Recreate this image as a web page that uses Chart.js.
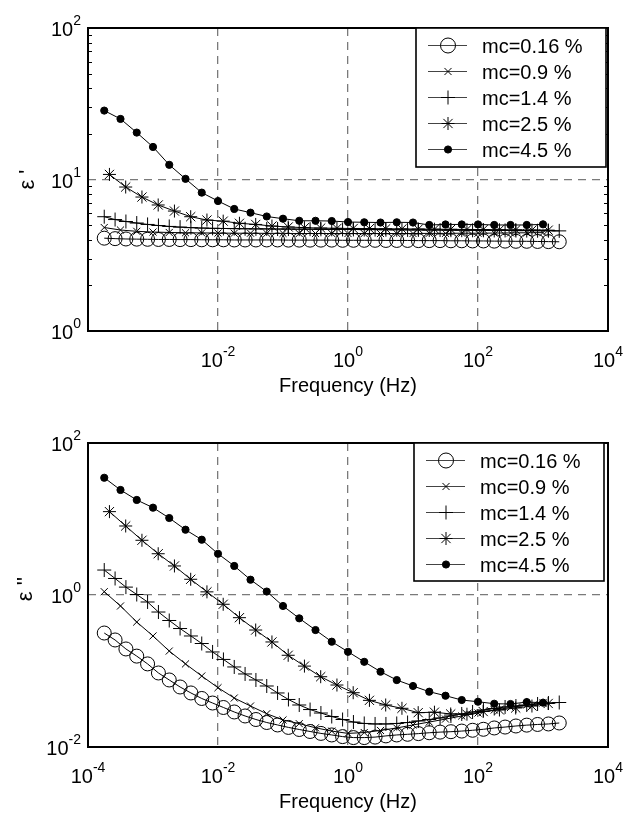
<!DOCTYPE html>
<html><head><meta charset="utf-8">
<script src="https://cdn.jsdelivr.net/npm/chart.js@4.4.1/dist/chart.umd.min.js"></script>
<style>
html,body{margin:0;padding:0;background:#fff;}
#wrap{position:relative;width:625px;height:816px;background:#fff;}
canvas{position:absolute;left:0;}
#c1{top:0;}
#c2{top:408px;}
</style></head><body>
<div id="wrap">
<canvas id="c1" width="625" height="408" style="width:625px;height:408px"></canvas>
<canvas id="c2" width="625" height="408" style="width:625px;height:408px"></canvas>
</div>
<script>
// ---------------- data ----------------
const seriesLabels = ['mc=0.16 %', 'mc=0.9 %', 'mc=1.4 %', 'mc=2.5 %', 'mc=4.5 %'];

// frequencies (Hz)
const freqQuarter = [1.778e-4, 3.162e-4, 5.623e-4, 1e-3, 1.778e-3, 3.162e-3, 5.623e-3, 1e-2, 1.778e-2, 3.162e-2,
  5.623e-2, 0.1, 0.1778, 0.3162, 0.5623, 1, 1.778, 3.162, 5.623, 10, 17.78, 31.62, 56.23, 100, 177.8, 316.2, 562.3, 1000];
const freqQuarterB = [2.138e-4, 3.802e-4, 6.761e-4, 1.202e-3, 2.138e-3, 3.802e-3, 6.761e-3, 1.202e-2, 2.138e-2, 3.802e-2,
  6.761e-2, 0.1202, 0.2138, 0.3802, 0.6761, 1.202, 2.138, 3.802, 6.761, 12.02, 21.38, 38.02, 67.61, 120.2, 213.8, 380.2, 676.1, 1202];
const freqSixth = [1.778e-4, 2.610e-4, 3.831e-4, 5.623e-4, 8.254e-4, 1.212e-3, 1.778e-3, 2.610e-3, 3.831e-3, 5.623e-3,
  8.254e-3, 1.212e-2, 1.778e-2, 2.610e-2, 3.831e-2, 5.623e-2, 8.254e-2, 0.1212, 0.1778, 0.2610, 0.3831, 0.5623, 0.8254,
  1.212, 1.778, 2.610, 3.831, 5.623, 8.254, 12.12, 17.78, 26.10, 38.31, 56.23, 82.54, 121.2, 177.8, 261.0, 383.1, 562.3,
  825.4, 1212, 1778];

// epsilon' (top panel)
const epsReal016 = [4.10, 4.07, 4.05, 4.04, 4.03, 4.02, 4.02, 4.01, 4.01, 4.00, 4.00, 4.00, 3.99, 3.99, 3.99, 3.99, 3.99,
  3.98, 3.98, 3.98, 3.98, 3.98, 3.97, 3.97, 3.97, 3.97, 3.96, 3.96, 3.96, 3.95, 3.95, 3.95, 3.94, 3.94, 3.93, 3.93, 3.92,
  3.92, 3.91, 3.91, 3.90, 3.89, 3.88];
const epsReal09 = [4.82, 4.64, 4.55, 4.50, 4.47, 4.45, 4.44, 4.43, 4.42, 4.42, 4.41, 4.41, 4.40, 4.40, 4.40, 4.40, 4.40,
  4.40, 4.40, 4.40, 4.41, 4.41, 4.42, 4.42, 4.43, 4.44, 4.45, 4.46];
const epsReal14 = [5.68, 5.44, 5.28, 5.16, 5.05, 4.97, 4.90, 4.85, 4.81, 4.78, 4.76, 4.75, 4.74, 4.73, 4.72, 4.72, 4.71,
  4.71, 4.70, 4.70, 4.69, 4.69, 4.68, 4.68, 4.67, 4.67, 4.66, 4.66, 4.65, 4.65, 4.64, 4.64, 4.63, 4.63, 4.62, 4.62, 4.61,
  4.61, 4.60, 4.60, 4.59, 4.59, 4.58];
const epsReal25 = [10.8, 8.92, 7.66, 6.79, 6.19, 5.68, 5.40, 5.31, 5.14, 5.05, 4.93, 4.86, 4.81, 4.78, 4.76, 4.75, 4.74,
  4.73, 4.72, 4.71, 4.70, 4.69, 4.68, 4.67, 4.66, 4.65, 4.64, 4.63];
const epsReal45 = [28.5, 25.1, 20.4, 16.4, 12.5, 10.1, 8.19, 7.21, 6.39, 6.04, 5.70, 5.51, 5.34, 5.34, 5.32, 5.24, 5.22,
  5.20, 5.22, 5.20, 5.01, 5.05, 5.05, 5.05, 5.01, 5.01, 5.01, 5.06];

// epsilon'' (bottom panel)
const epsImag016 = [0.316, 0.256, 0.195, 0.157, 0.124, 0.0942, 0.0762, 0.0616, 0.0514, 0.0435, 0.0379, 0.0331, 0.0289,
  0.0256, 0.0230, 0.0210, 0.0195, 0.0181, 0.0170, 0.0160, 0.0151, 0.0144, 0.0137, 0.0133, 0.0133, 0.0135, 0.0140, 0.0144,
  0.0147, 0.0150, 0.0154, 0.0157, 0.0159, 0.0162, 0.0166, 0.0171, 0.0178, 0.0183, 0.0189, 0.0194, 0.0198, 0.0201, 0.0207];
const epsImag09 = [1.105, 0.717, 0.441, 0.289, 0.183, 0.124, 0.0859, 0.0603, 0.0441, 0.0346, 0.0274, 0.0227, 0.0203,
  0.0179, 0.0162, 0.0151, 0.0155, 0.0165, 0.0178, 0.0195, 0.0213, 0.0233, 0.0256, 0.0280, 0.0307, 0.0331, 0.0357, 0.0379];
const epsImag14 = [2.13, 1.65, 1.27, 1.015, 0.809, 0.597, 0.462, 0.362, 0.289, 0.230, 0.178, 0.142, 0.113, 0.0914,
  0.0762, 0.0635, 0.0514, 0.0422, 0.0357, 0.0311, 0.0280, 0.0252, 0.0230, 0.0213, 0.0204, 0.0201, 0.0201, 0.0204, 0.0210,
  0.0220, 0.0230, 0.0241, 0.0256, 0.0272, 0.0289, 0.0307, 0.0321, 0.0336, 0.0346, 0.0357, 0.0368, 0.0379, 0.0385];
const epsImag25 = [12.5, 8.09, 5.25, 3.49, 2.41, 1.61, 1.10, 0.755, 0.503, 0.346, 0.241, 0.161, 0.116, 0.0841, 0.0654,
  0.0518, 0.0411, 0.0357, 0.0323, 0.0283, 0.0287, 0.0272, 0.0270, 0.0293, 0.0307, 0.0326, 0.0346, 0.0374];
const epsImag45 = [34.9, 24.1, 17.8, 14.1, 10.3, 7.23, 5.34, 3.49, 2.41, 1.59, 1.11, 0.717, 0.493, 0.346, 0.243, 0.179,
  0.132, 0.098, 0.076, 0.0635, 0.0534, 0.0473, 0.0415, 0.0394, 0.0371, 0.0368, 0.039, 0.0383];

// ticks (decade exponents)
const topXTickExps = [-2, 0, 2, 4];
const bottomXTickExps = [-4, -2, 0, 2, 4];
const topYTickExps = [0, 1, 2];
const bottomYTickExps = [-2, 0, 2];
const topMinorY = [2, 3, 4, 5, 6, 7, 8, 9, 20, 30, 40, 50, 60, 70, 80, 90];

const seriesFreqs = [freqSixth, freqQuarter, freqSixth, freqQuarterB, freqQuarter];

// ---------------- styles ----------------
const FONT = '"Liberation Sans", Arial, Helvetica, sans-serif';
Chart.defaults.font.family = FONT;
const markerStyles = [
  {pointStyle: 'circle', radius: 7, fill: 'rgba(0,0,0,0)'},
  {pointStyle: 'crossRot', radius: 5, fill: 'rgba(0,0,0,0)'},
  {pointStyle: 'cross', radius: 7, fill: 'rgba(0,0,0,0)'},
  {pointStyle: 'star', radius: 6.5, fill: 'rgba(0,0,0,0)'},
  {pointStyle: 'circle', radius: 3.6, fill: '#000'}
];

function buildDatasets(valsList) {
  return seriesLabels.map((lab, i) => ({
    label: lab,
    data: seriesFreqs[i].map((f, j) => ({x: f, y: valsList[i][j]})),
    borderColor: '#000', borderWidth: 1, fill: false, tension: 0,
    backgroundColor: markerStyles[i].fill,
    pointStyle: markerStyles[i].pointStyle,
    pointRadius: markerStyles[i].radius,
    pointHoverRadius: markerStyles[i].radius,
    pointBorderColor: '#000', pointBorderWidth: 1,
    pointBackgroundColor: markerStyles[i].fill
  }));
}

function sciLabel(ctx, e, x, y, align) {
  ctx.font = '20px ' + FONT;
  const w1 = ctx.measureText('10').width;
  const s = String(e);
  ctx.font = '14px ' + FONT;
  const w2 = ctx.measureText(s).width;
  const total = w1 + w2;
  const x0 = align === 'center' ? x - total / 2 : x - total;
  ctx.textAlign = 'left';
  ctx.textBaseline = 'alphabetic';
  ctx.fillStyle = '#000';
  ctx.font = '20px ' + FONT;
  ctx.fillText('10', x0, y);
  ctx.font = '14px ' + FONT;
  ctx.fillText(s, x0 + w1, y - 11);
}

const decor = {
  id: 'decor',
  afterDraw(chart, args, o) {
    const ctx = chart.ctx, a = chart.chartArea, xs = chart.scales.x, ys = chart.scales.y;
    ctx.save();
    // minor ticks
    ctx.strokeStyle = '#000'; ctx.lineWidth = 1;
    (o.minorY || []).forEach(v => {
      const py = Math.round(ys.getPixelForValue(v)) + 0.5;
      ctx.beginPath();
      ctx.moveTo(a.left, py); ctx.lineTo(a.left + 4, py);
      ctx.moveTo(a.right, py); ctx.lineTo(a.right - 4, py);
      ctx.stroke();
    });
    // frame
    ctx.strokeStyle = '#000'; ctx.lineWidth = 2;
    ctx.strokeRect(a.left, a.top, a.right - a.left, a.bottom - a.top);
    // tick labels
    o.xExps.forEach(e => sciLabel(ctx, e, xs.getPixelForValue(Math.pow(10, e)), a.bottom + 36, 'center'));
    o.yExps.forEach(e => sciLabel(ctx, e, 81, ys.getPixelForValue(Math.pow(10, e)) + 8, 'right'));
    // axis titles
    ctx.fillStyle = '#000';
    ctx.font = '20px ' + FONT;
    ctx.textAlign = 'center'; ctx.textBaseline = 'alphabetic';
    ctx.fillText(o.xTitle, (a.left + a.right) / 2, a.bottom + 61);
    ctx.save();
    ctx.translate(o.yTitleX, (a.top + a.bottom) / 2 + o.yTitleDy);
    ctx.rotate(-Math.PI / 2);
    ctx.textBaseline = 'middle';
    ctx.font = '22px ' + FONT;
    ctx.fillText(o.yTitle, 0, 0);
    ctx.restore();
    // legend
    const L = o.legendBox;
    ctx.fillStyle = '#fff';
    ctx.fillRect(L.left, L.top, L.right - L.left, L.bottom - L.top);
    ctx.strokeStyle = '#000'; ctx.lineWidth = 1.6;
    ctx.strokeRect(L.left, L.top, L.right - L.left, L.bottom - L.top);
    chart.data.datasets.forEach((ds, i) => {
      const ry = Math.round(L.top + 16.8 + i * 26) + 0.5;
      ctx.strokeStyle = '#444'; ctx.lineWidth = 1;
      ctx.beginPath(); ctx.moveTo(L.left + 12, ry); ctx.lineTo(L.left + 51, ry); ctx.stroke();
      ctx.strokeStyle = '#000'; ctx.fillStyle = ds.pointBackgroundColor; ctx.lineWidth = 1;
      Chart.helpers.drawPoint(ctx, {pointStyle: ds.pointStyle, radius: ds.pointRadius + (i === 0 ? 0.5 : 0), borderWidth: 1, rotation: 0}, L.left + 32, ry);
      ctx.fillStyle = '#000';
      ctx.font = '20px ' + FONT;
      ctx.textAlign = 'left'; ctx.textBaseline = 'alphabetic';
      ctx.fillText(ds.label, L.left + 66, ry + 7);
    });
    ctx.restore();
  }
};

function gridColor(c) {
  const v = c.tick ? c.tick.value : null;
  if (v === null) return 'rgba(0,0,0,0)';
  const sc = c.scale;
  if (Math.abs(Math.log10(v) - Math.log10(sc.min)) < 1e-6 || Math.abs(Math.log10(v) - Math.log10(sc.max)) < 1e-6) return 'rgba(0,0,0,0)';
  return '#7a7a7a';
}

function makeChart(id, valsList, cfg) {
  return new Chart(document.getElementById(id), {
    type: 'line',
    data: {datasets: buildDatasets(valsList)},
    options: {
      responsive: false, animation: false, devicePixelRatio: 1,
      layout: {padding: {top: cfg.padTop, right: 17, left: 0, bottom: 0}, autoPadding: false},
      plugins: {legend: {display: false}, tooltip: {enabled: false}, decor: cfg.decor},
      events: [],
      scales: {
        x: {
          type: 'logarithmic', min: 1e-4, max: 1e4,
          afterBuildTicks: s => { s.ticks = bottomXTickExps.map(e => ({value: Math.pow(10, e)})); },
          afterFit: s => { s.height = cfg.xHeight; },
          ticks: {display: false},
          grid: {color: gridColor, lineWidth: 1.3, drawTicks: false},
          border: {display: false, dash: [8, 6]}
        },
        y: {
          type: 'logarithmic', min: cfg.yMin, max: cfg.yMax,
          afterBuildTicks: s => { s.ticks = cfg.yGridExps.map(e => ({value: Math.pow(10, e)})); },
          afterFit: s => { s.width = 88; },
          ticks: {display: false},
          grid: {color: gridColor, lineWidth: 1.3, drawTicks: false},
          border: {display: false, dash: [8, 6]}
        }
      }
    },
    plugins: [decor]
  });
}

makeChart('c1', [epsReal016, epsReal09, epsReal14, epsReal25, epsReal45], {
  padTop: 28, xHeight: 77, yMin: 1, yMax: 100, yGridExps: topYTickExps,
  decor: {xExps: topXTickExps, yExps: topYTickExps, minorY: topMinorY, xTitle: 'Frequency (Hz)',
    yTitle: "ε '", yTitleX: 28, yTitleDy: 0, legendBox: {left: 416, top: 28, right: 606, bottom: 167}}
});
makeChart('c2', [epsImag016, epsImag09, epsImag14, epsImag25, epsImag45], {
  padTop: 35, xHeight: 69, yMin: 0.01, yMax: 100, yGridExps: bottomYTickExps,
  decor: {xExps: bottomXTickExps, yExps: bottomYTickExps, minorY: [], xTitle: 'Frequency (Hz)',
    yTitle: "ε ''", yTitleX: 26, yTitleDy: -6, legendBox: {left: 414, top: 35, right: 604, bottom: 173}}
});
</script>
</body></html>
